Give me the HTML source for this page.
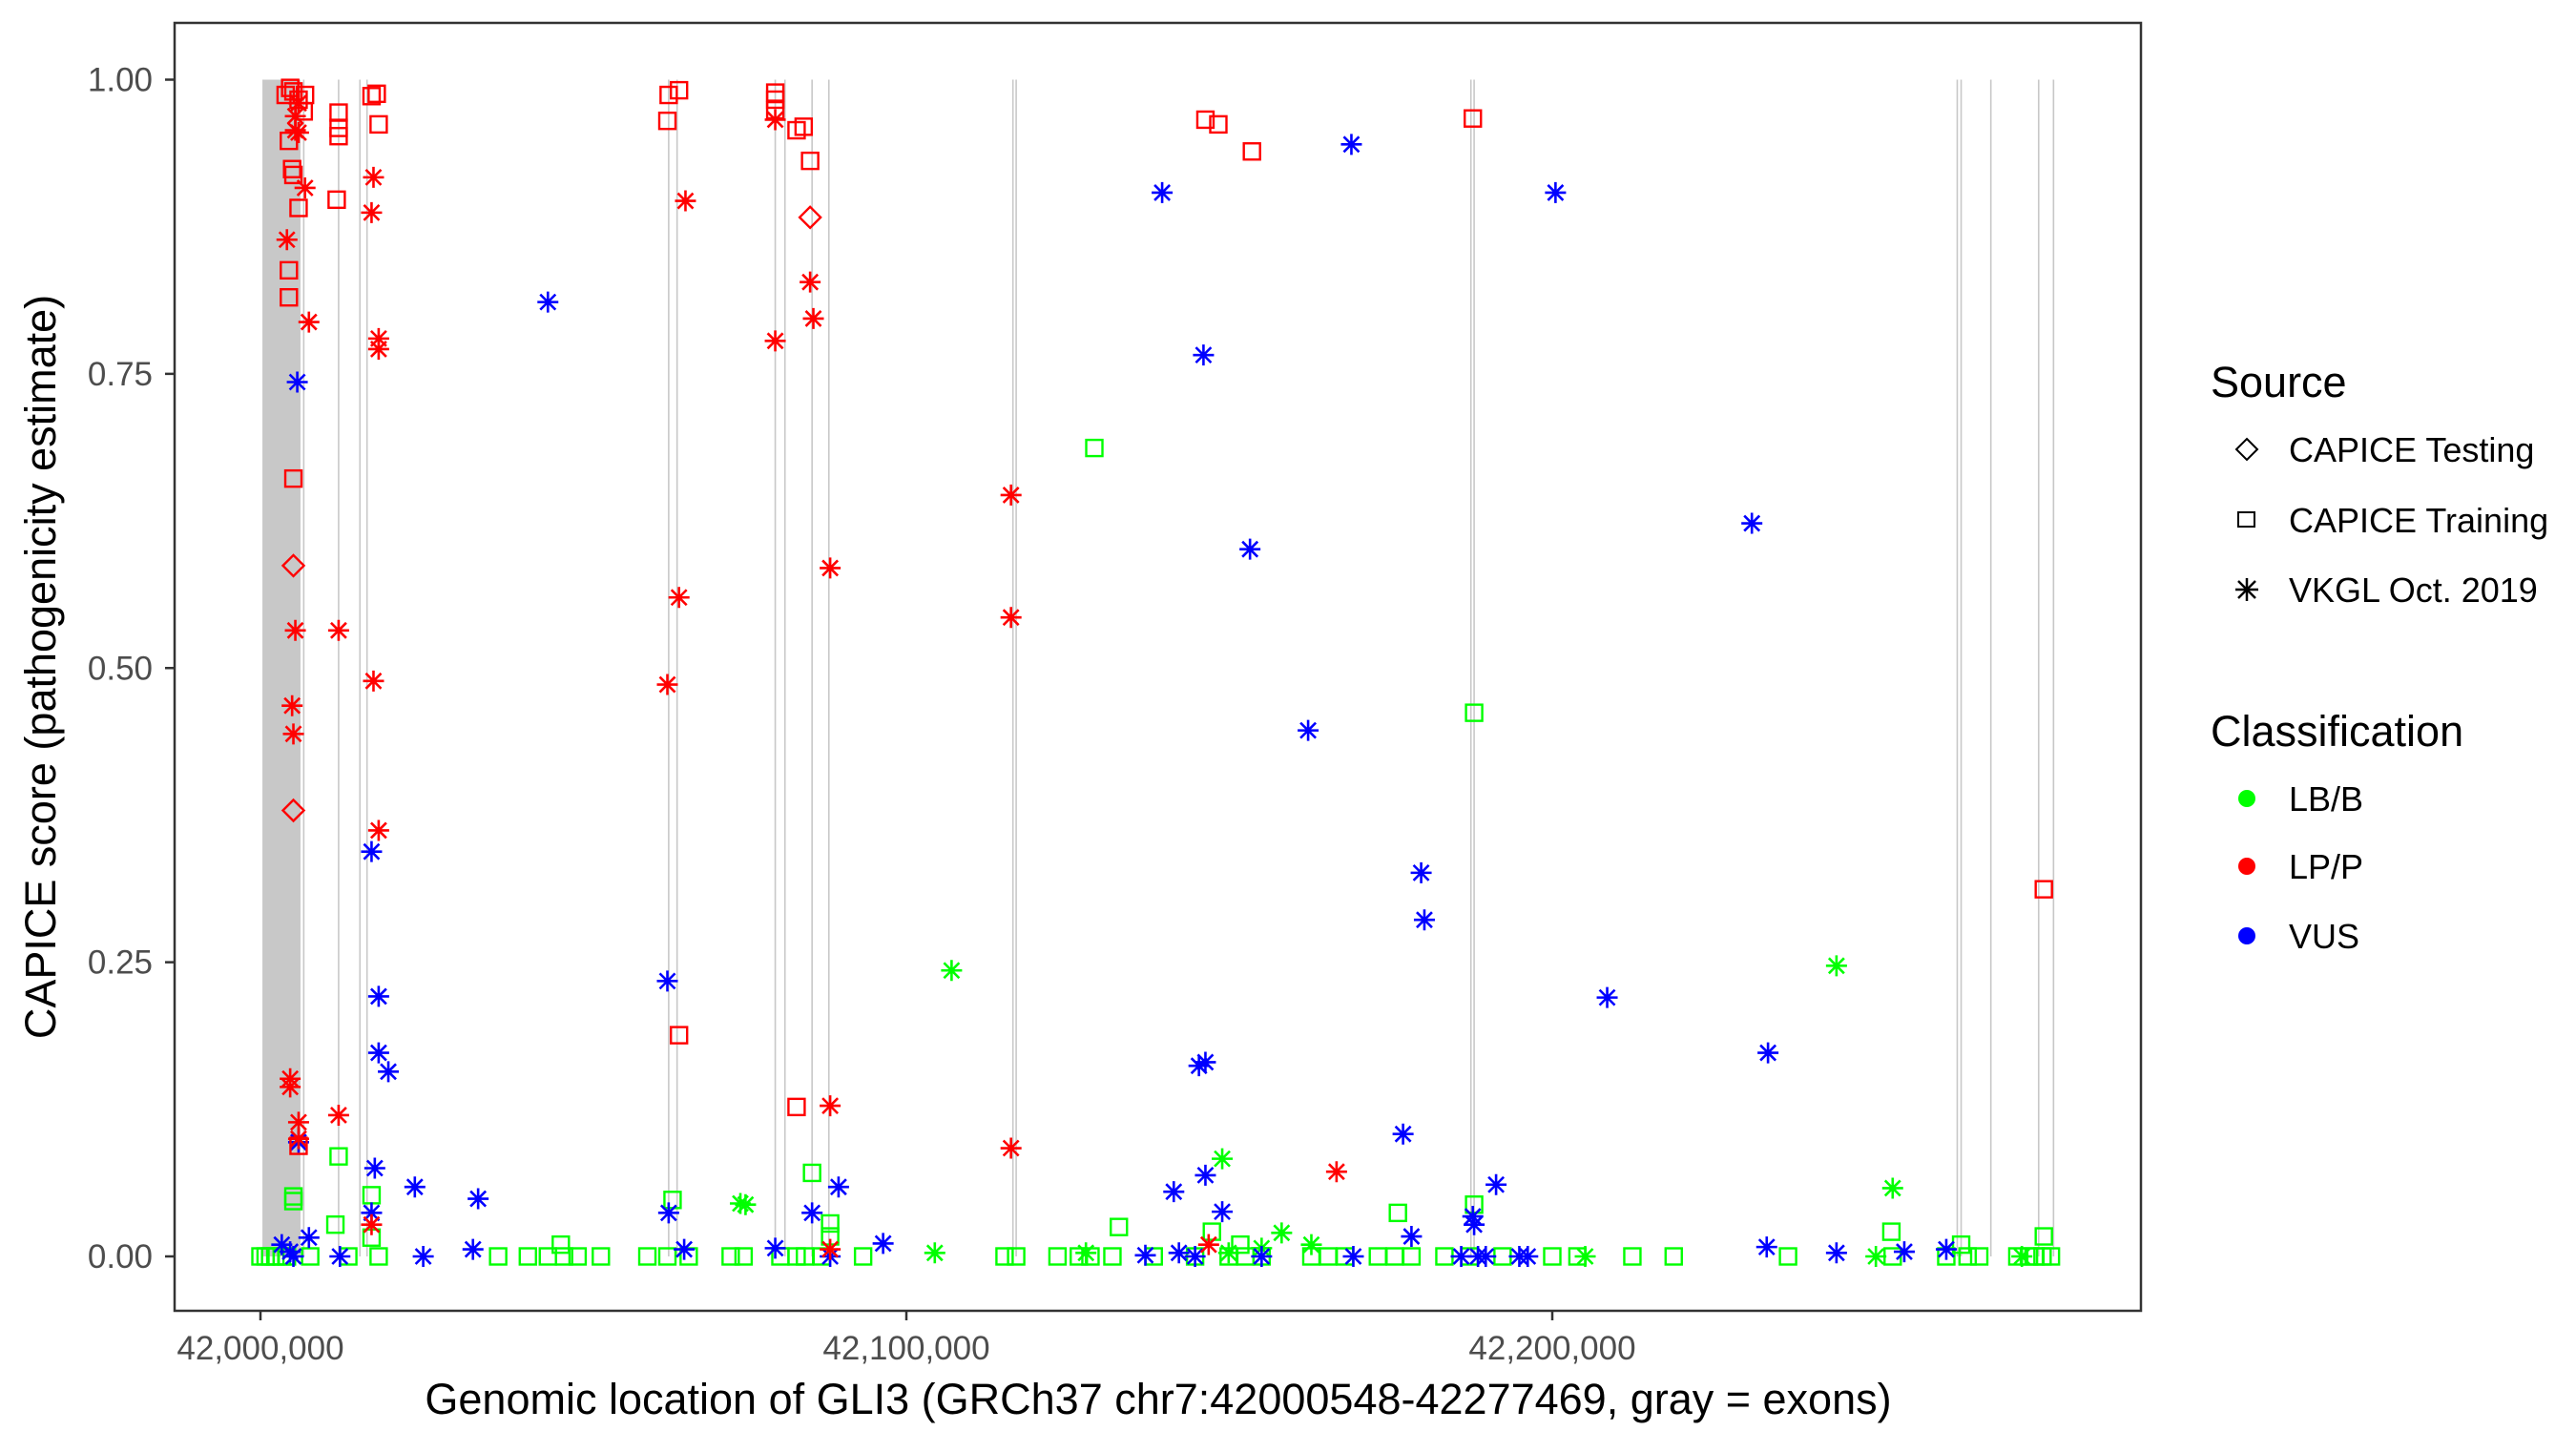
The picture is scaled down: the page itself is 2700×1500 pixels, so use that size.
<!DOCTYPE html>
<html><head><meta charset="utf-8"><style>
html,body{margin:0;padding:0;background:#fff;}
svg{display:block;font-family:"Liberation Sans",Arial,sans-serif;}
</style></head><body>
<svg id="chart" width="2700" height="1500" viewBox="0 0 2700 1500" xmlns="http://www.w3.org/2000/svg">
<rect x="183" y="24" width="2061" height="1350" fill="#fff"/>
<g id="exons"></g>
<g id="marks"></g>
<rect x="183" y="24" width="2061" height="1350" fill="none" stroke="#333" stroke-width="2.5"/>
<g id="axes"></g>
<text x="1214" y="1482" font-size="45" text-anchor="middle" fill="#000">Genomic location of GLI3 (GRCh37 chr7:42000548-42277469, gray = exons)</text>
<text transform="translate(58,699) rotate(-90)" font-size="45" text-anchor="middle" fill="#000">CAPICE score (pathogenicity estimate)</text>
<g>
<text x="2317" y="416" font-size="45">Source</text>
<path d="M2355 460 L2366 471 L2355 482 L2344 471 Z" fill="none" stroke="#000" stroke-width="2"/>
<text x="2399" y="484" font-size="36">CAPICE Testing</text>
<rect x="2346" y="537" width="17" height="15" fill="none" stroke="#000" stroke-width="2"/>
<text x="2399" y="558" font-size="36">CAPICE Training</text>
<g stroke="#000" stroke-width="2.5"><line x1="2343" y1="618" x2="2367" y2="618"/><line x1="2355" y1="606" x2="2355" y2="630"/><line x1="2346" y1="609" x2="2364" y2="627"/><line x1="2346" y1="627" x2="2364" y2="609"/></g>
<text x="2399" y="631" font-size="36">VKGL Oct. 2019</text>
<text x="2317" y="782" font-size="45">Classification</text>
<circle cx="2355" cy="837" r="9" fill="#00ff00"/>
<text x="2399" y="850" font-size="36">LB/B</text>
<circle cx="2355" cy="908" r="9" fill="#ff0000"/>
<text x="2399" y="921" font-size="36">LP/P</text>
<circle cx="2355" cy="981" r="9" fill="#0000ff"/>
<text x="2399" y="994" font-size="36">VUS</text>
</g>
</svg>
<script>
// positions in kb offset from 42,000,000; scores 0..1
const xTicks = [0, 100, 200];
const xTickLabels = ["42,000,000", "42,100,000", "42,200,000"];
const yTicks = [0, 0.25, 0.5, 0.75, 1];
const yTickLabels = ["0.00", "0.25", "0.50", "0.75", "1.00"];
const exonBand = [0.3, 6.2];
const exonLines = [6.7, 12.1, 15.4, 16.5, 63.2, 64.5, 79.7, 81.2, 85.4, 88.0, 116.5, 117.0, 187.4, 187.9, 262.7, 263.3, 267.9, 275.3, 277.6];

const redSqX = [3.9,4.6,5.1,5.9,6.9,6.7,4.4,4.9,5.1,5.9,4.4,4.4,5.1,12.1,12.1,12.1,11.8,17.2,18.0,18.3,5.9,63.0,63.2,64.8,64.8,79.7,79.7,79.7,83.0,84.1,85.1,83.0,146.3,148.3,153.5,187.7,276.1];
const redSqY = [0.987,0.993,0.99,0.983,0.987,0.973,0.948,0.924,0.919,0.891,0.838,0.815,0.661,0.972,0.959,0.952,0.898,0.986,0.988,0.962,0.094,0.965,0.987,0.991,0.188,0.989,0.983,0.974,0.957,0.96,0.931,0.127,0.966,0.962,0.939,0.967,0.312];
const redStX = [5.9,5.4,5.4,5.9,6.9,4.1,7.5,5.4,4.9,5.1,17.5,17.2,18.3,18.3,12.1,17.5,18.3,4.6,4.6,5.9,5.9,12.1,17.2,63.0,64.8,65.8,79.7,79.7,85.1,85.6,88.2,88.2,116.2,116.2,116.2,166.6,146.8,88.2];
const redStY = [0.98,0.969,0.957,0.955,0.908,0.864,0.794,0.532,0.468,0.444,0.917,0.887,0.78,0.771,0.532,0.489,0.362,0.151,0.144,0.114,0.1,0.12,0.027,0.486,0.56,0.897,0.966,0.778,0.828,0.797,0.585,0.128,0.647,0.543,0.092,0.072,0.01,0.006];
const redDiX = [5.1,5.1,85.1];
const redDiY = [0.587,0.379,0.883];
const blueStX = [5.7,5.9,17.2,18.3,18.3,19.8,17.7,17.2,23.9,33.7,44.5,63.0,63.2,65.6,79.7,85.4,89.5,96.4,139.6,168.9,146.0,153.2,145.3,146.3,141.4,146.3,148.9,162.2,179.7,180.2,176.9,178.2,191.3,187.7,187.9,200.5,208.5,230.9,233.4,233.2,244.0,254.5,261.0,7.5,4.6,3.3,5.1,12.3,25.2,32.9,137.0,142.2,144.7,155.0,169.2,185.9,189.7,194.9,196.2,188.5,88.2];
const blueStY = [0.743,0.097,0.344,0.221,0.173,0.157,0.075,0.037,0.059,0.049,0.811,0.234,0.037,0.006,0.007,0.037,0.059,0.011,0.904,0.945,0.766,0.601,0.162,0.165,0.055,0.069,0.038,0.447,0.326,0.286,0.104,0.017,0.061,0.034,0.027,0.904,0.22,0.623,0.173,0.008,0.003,0.004,0.006,0.016,0.004,0.01,0,0,0,0.006,0.001,0.003,0,0,0,0,0,0,0,0,0];
const greenSqX = [129.1,187.9,12.1,5.1,5.1,85.4,88.2,88.2,63.8,17.2,17.2,11.6,176.1,187.9,132.9,252.5,263.3,276.1,151.7,147.3,46.5,0,0.8,1.5,2.3,3.3,4.1,7.7,13.6,18.3,36.8,41.4,44.5,47.0,49.1,52.7,59.9,63.0,66.3,72.8,74.8,80.5,83.0,84.3,86.9,93.3,115.2,117.0,123.4,126.7,128.5,131.9,138.3,144.7,149.9,152.5,155.0,162.7,165.3,167.9,173.0,175.6,178.2,183.3,187.2,192.3,200.0,203.9,212.4,218.8,236.5,252.7,261.0,264.3,266.1,272.0,273.8,274.8,275.9,277.2];
const greenSqY = [0.687,0.462,0.085,0.051,0.047,0.071,0.028,0.017,0.048,0.052,0.016,0.027,0.037,0.044,0.025,0.021,0.01,0.017,0.01,0.021,0.01,0,0,0,0,0,0,0,0,0,0,0,0,0,0,0,0,0,0,0,0,0,0,0,0,0,0,0,0,0,0,0,0,0,0,0,0,0,0,0,0,0,0,0,0,0,0,0,0,0,0,0,0,0,0,0,0,0,0,0];
const greenStX = [107.0,244.0,148.9,252.7,74.3,75.1,158.1,104.4,127.8,149.9,155.0,205.1,250.1,272.7,162.7];
const greenStY = [0.243,0.247,0.083,0.058,0.045,0.044,0.02,0.003,0.003,0.003,0.007,0,0,0,0.01];

const NS = "http://www.w3.org/2000/svg";
function xs(kb){ return 273 + kb * 6.77; }
function ys(s){ return 1317 - s * 1233.5; }
function mk(tag, attrs, parent){
  const e = document.createElementNS(NS, tag);
  for (const k in attrs) e.setAttribute(k, attrs[k]);
  parent.appendChild(e);
  return e;
}
const exG = document.getElementById("exons");
const band = mk("rect", {x: xs(exonBand[0]), y: ys(1), width: xs(exonBand[1]) - xs(exonBand[0]), height: ys(0) - ys(1), fill: "#c8c8c8"}, exG);


exonLines.forEach(function(p){
  const l = mk("line", {x1: xs(p), x2: xs(p), y1: ys(1), y2: ys(0), stroke: "#c8c8c8", "stroke-width": 1.6}, exG);
  
  
});

const mG = document.getElementById("marks");
function square(x, y, c){
  const e = mk("rect", {x: xs(x) - 8.5, y: ys(y) - 8.5, width: 17, height: 17, fill: "none", stroke: c, "stroke-width": 2.4}, mG);
  
  
}
function diamond(x, y, c){
  const cx = xs(x), cy = ys(y), r = 11;
  const e = mk("path", {d: "M" + cx + " " + (cy - r) + " L" + (cx + r) + " " + cy + " L" + cx + " " + (cy + r) + " L" + (cx - r) + " " + cy + " Z", fill: "none", stroke: c, "stroke-width": 2.4}, mG);
  
  
}
function star(x, y, c){
  const cx = xs(x), cy = ys(y), r = 11, d = 8;
  const path = "M" + (cx - r) + " " + cy + " L" + (cx + r) + " " + cy +
    " M" + cx + " " + (cy - r) + " L" + cx + " " + (cy + r) +
    " M" + (cx - d) + " " + (cy - d) + " L" + (cx + d) + " " + (cy + d) +
    " M" + (cx - d) + " " + (cy + d) + " L" + (cx + d) + " " + (cy - d);
  const e = mk("path", {d: path, fill: "none", stroke: c, "stroke-width": 2.6}, mG);
  
  
}
greenSqX.forEach(function(v, i){ square(v, greenSqY[i], "#00ff00"); });
greenStX.forEach(function(v, i){ star(v, greenStY[i], "#00ff00"); });
blueStX.forEach(function(v, i){ star(v, blueStY[i], "#0000ff"); });
redSqX.forEach(function(v, i){ square(v, redSqY[i], "#ff0000"); });
redStX.forEach(function(v, i){ star(v, redStY[i], "#ff0000"); });
redDiX.forEach(function(v, i){ diamond(v, redDiY[i], "#ff0000"); });

const aG = document.getElementById("axes");
xTicks.forEach(function(t, i){
  const l = mk("line", {x1: xs(t), x2: xs(t), y1: 1374, y2: 1384, stroke: "#333", "stroke-width": 2.5}, aG);
  
  
  const tx = mk("text", {x: xs(t), y: 1425, "font-size": 35, "text-anchor": "middle", fill: "#4d4d4d"}, aG);
  tx.textContent = xTickLabels[i];
  
  
});
yTicks.forEach(function(t, i){
  const l = mk("line", {x1: 173, x2: 183, y1: ys(t), y2: ys(t), stroke: "#333", "stroke-width": 2.5}, aG);
  
  
  const tx = mk("text", {x: 160, y: ys(t) + 12, "font-size": 35, "text-anchor": "end", fill: "#4d4d4d"}, aG);
  tx.textContent = yTickLabels[i];
  
  
});
</script>
</body></html>
